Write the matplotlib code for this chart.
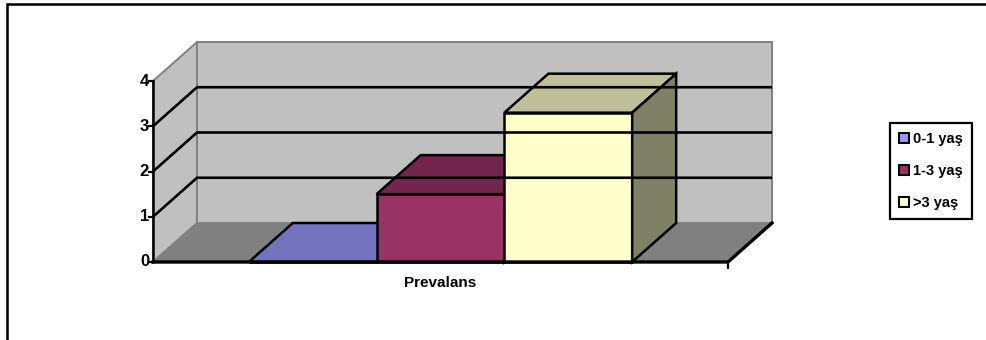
import matplotlib.pyplot as plt
from matplotlib.patches import Polygon, Rectangle, Patch
from matplotlib.colors import to_rgb

plt.rcParams['font.family'] = ['Liberation Sans', 'DejaVu Sans']
plt.rcParams['font.weight'] = 'bold'

category = 'Prevalans'
series = ['0-1 yaş', '1-3 yaş', '>3 yaş']
values = [0, 1.5, 3.3]
yticks = [0, 1, 2, 3, 4]
colors = ['#9999FF', '#993366', '#FFFFCC']

W, H = 986, 340
cat_px = 575.0      # width of the category on the front plane, px
unit_px = 45.25     # one value unit, px
x0_px, y0_px = 153, 262
dx = 44 / cat_px    # depth offset (category units)
dy = 39 / unit_px   # depth offset (value units)
gap = 1.5           # excel gap width 150%


def shade(c, f):
    r, g, b = to_rgb(c)
    return (r * f, g * f, b * f)


fig = plt.figure(figsize=(W / 100, H / 100), dpi=100)
ax = fig.add_axes([0, 0, 1, 1])
ax.axis('off')
ax.set_xlim(-x0_px / cat_px, (W - x0_px) / cat_px)
ax.set_ylim(-(H - y0_px) / unit_px, y0_px / unit_px)

ymax = yticks[-1]
wall = '#C0C0C0'
edge = '#808080'

# walls and floor
ax.add_patch(Polygon([(dx, dy), (1 + dx, dy), (1 + dx, ymax + dy), (dx, ymax + dy)],
                     fc=wall, ec=edge, lw=1.4))
ax.add_patch(Polygon([(0, 0), (dx, dy), (dx, ymax + dy), (0, ymax)],
                     fc=wall, ec=edge, lw=1.4))
ax.add_patch(Polygon([(0, 0), (1, 0), (1 + dx, dy), (dx, dy)],
                     fc='#808080', ec=edge, lw=1.2))

for v in yticks[1:-1]:
    ax.plot([0, dx, 1 + dx], [v, v + dy, v + dy], color='black', lw=1.9,
            solid_capstyle='butt')

# bars
n = len(values)
bw = 1.0 / (n + gap)
start = gap * bw / 2
for i, (v, c) in enumerate(zip(values, colors)):
    a = start + i * bw
    b = a + bw
    ax.add_patch(Rectangle((a, 0), bw, v, fc=c, ec='black', lw=1.8))
    ax.add_patch(Polygon([(a, v), (b, v), (b + dx, v + dy), (a + dx, v + dy)],
                         fc=shade(c, 0.75), ec='black', lw=1.8))
    ax.add_patch(Polygon([(b, 0), (b + dx, dy), (b + dx, v + dy), (b, v)],
                         fc=shade(c, 0.5), ec='black', lw=1.8))

# floor front edge and axis
ax.plot([0, 1, 1 + dx], [0, 0, dy], color='black', lw=2.4)
ax.plot([1, 1], [0, -6 / unit_px], color='black', lw=1.6)
ax.plot([0, 0], [0, ymax], color='black', lw=1.8)
for v in yticks:
    ax.plot([-4 / cat_px, 0], [v, v], color='black', lw=1.6)
    ax.text(-4 / cat_px, v, str(v), ha='right', va='center', fontsize=12,
            fontweight='bold')

ax.text(0.5, -21 / unit_px, category, ha='center', va='center', fontsize=11,
        fontweight='bold')

# outer frame
fig.add_artist(Rectangle((7 / W, -0.2), 1.5, 1.2 - 4 / H, transform=fig.transFigure,
                         fill=False, ec='black', lw=1.8))

handles = [Patch(fc=c, ec='black', lw=1.5) for c in colors]
leg = fig.legend(handles, series, loc='upper left',
                 bbox_to_anchor=(890 / W, 1 - 123 / H), bbox_transform=fig.transFigure,
                 frameon=True, fancybox=False, edgecolor='black', framealpha=1,
                 borderaxespad=0, handlelength=0.7, handleheight=0.7,
                 handletextpad=0.3, labelspacing=1.25, borderpad=0.6,
                 prop={'weight': 'bold', 'size': 10.5})
leg.get_frame().set_linewidth(1.6)

fig.savefig('out.png', dpi=100)
